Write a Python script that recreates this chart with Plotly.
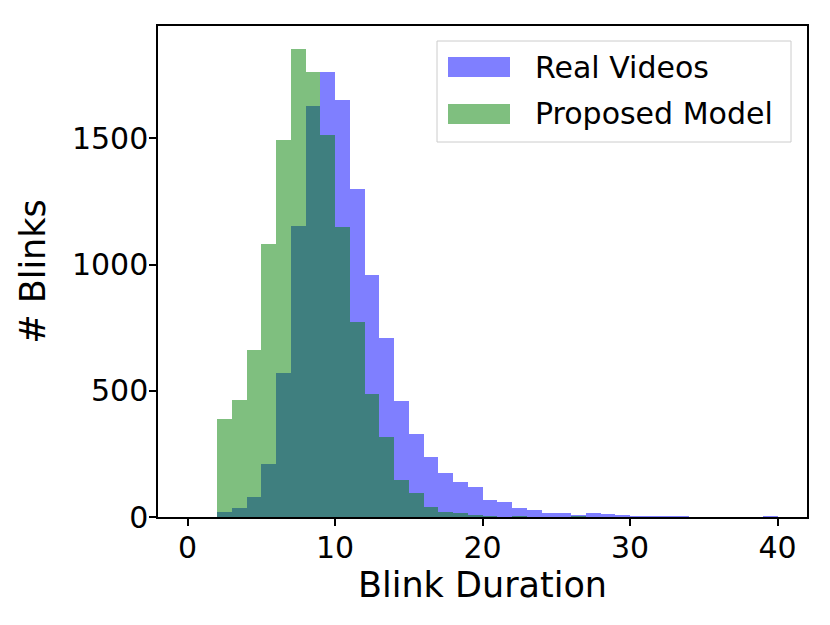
import plotly.graph_objects as go

# histogram bins (width 1) and counts
bin_edges = list(range(0, 41))
real_videos = [0, 0, 20, 34, 80, 210, 569, 1153, 1626, 1764,
               1651, 1298, 959, 707, 458, 329, 237, 175, 137, 117,
               67, 61, 37, 28, 17, 15, 9, 17, 12, 6,
               5, 5, 4, 4, 0, 0, 0, 0, 0, 5]
proposed_model = [0, 0, 390, 463, 661, 1082, 1494, 1852, 1764, 1514,
                  1149, 774, 487, 318, 148, 97, 41, 20, 16, 6,
                  4, 2, 3, 1, 1, 1, 4, 1, 0, 0,
                  0, 0, 0, 0, 0, 0, 0, 0, 0, 0]
series_names = ["Real Videos", "Proposed Model"]
x_ticks = [0, 10, 20, 30, 40]
y_ticks = [0, 500, 1000, 1500]

BLUE = "rgba(0,0,255,0.5)"
GREEN = "rgba(0,128,0,0.5)"
FONT = "DejaVu Sans"

# plot area in screen pixels; the page body adds an 8px offset
L, R, T, B = 158, 807, 26, 517
PAGE_OFF = 8


def px_x(p):
    return (p - L) / (R - L)


def px_y(p):
    return (B - p) / (B - T)


fig = go.Figure()
for name, counts, color in [(series_names[0], real_videos, BLUE),
                            (series_names[1], proposed_model, GREEN)]:
    fig.add_trace(go.Bar(
        x=bin_edges[:-1], y=counts, offset=0, width=1,
        marker_color=color, marker_line_width=0,
        name=name, showlegend=False,
    ))

# ── legend drawn by hand so the patches are wide rectangles ─────────────
shapes = [dict(type="rect", xref="paper", yref="paper",
               x0=px_x(437), x1=px_x(791), y0=px_y(142), y1=px_y(41),
               line=dict(color="#cccccc", width=1), fillcolor="rgba(255,255,255,0.8)")]
annotations = []
for i, (name, color) in enumerate(zip(series_names, [BLUE, GREEN])):
    cy = 67 + i * 47
    shapes.append(dict(type="rect", xref="paper", yref="paper",
                       x0=px_x(448), x1=px_x(510), y0=px_y(cy + 10), y1=px_y(cy - 10),
                       line=dict(width=0), fillcolor=color))
    annotations.append(dict(xref="paper", yref="paper", x=px_x(533), y=px_y(cy),
                            xanchor="left", yanchor="middle", showarrow=False,
                            text=name, font=dict(family=FONT, size=30, color="black")))

axis_common = dict(
    showline=True, mirror=True, linecolor="black", linewidth=1.5,
    ticks="outside", ticklen=7, tickwidth=1.5, tickcolor="black",
    showgrid=False, zeroline=False,
    tickfont=dict(family=FONT, size=30, color="black"),
)

fig.update_layout(
    width=830, height=625,
    margin=dict(l=L - PAGE_OFF, r=830 - R + PAGE_OFF, t=T - PAGE_OFF, b=625 - B + PAGE_OFF),
    paper_bgcolor="white", plot_bgcolor="white",
    barmode="overlay", bargap=0,
    shapes=shapes, annotations=annotations,
    xaxis=dict(range=[-2, 42], tickvals=x_ticks, ticklabelstandoff=-4,
               title=dict(text="Blink Duration", font=dict(family=FONT, size=35, color="black"),
                          standoff=6),
               **axis_common),
    yaxis=dict(range=[0, 1.05 * max(proposed_model)], tickvals=y_ticks, ticklabelstandoff=-5,
               title=dict(text="# Blinks", font=dict(family=FONT, size=35, color="black"),
                          standoff=16),
               **axis_common),
)

fig.write_html("out.html")
